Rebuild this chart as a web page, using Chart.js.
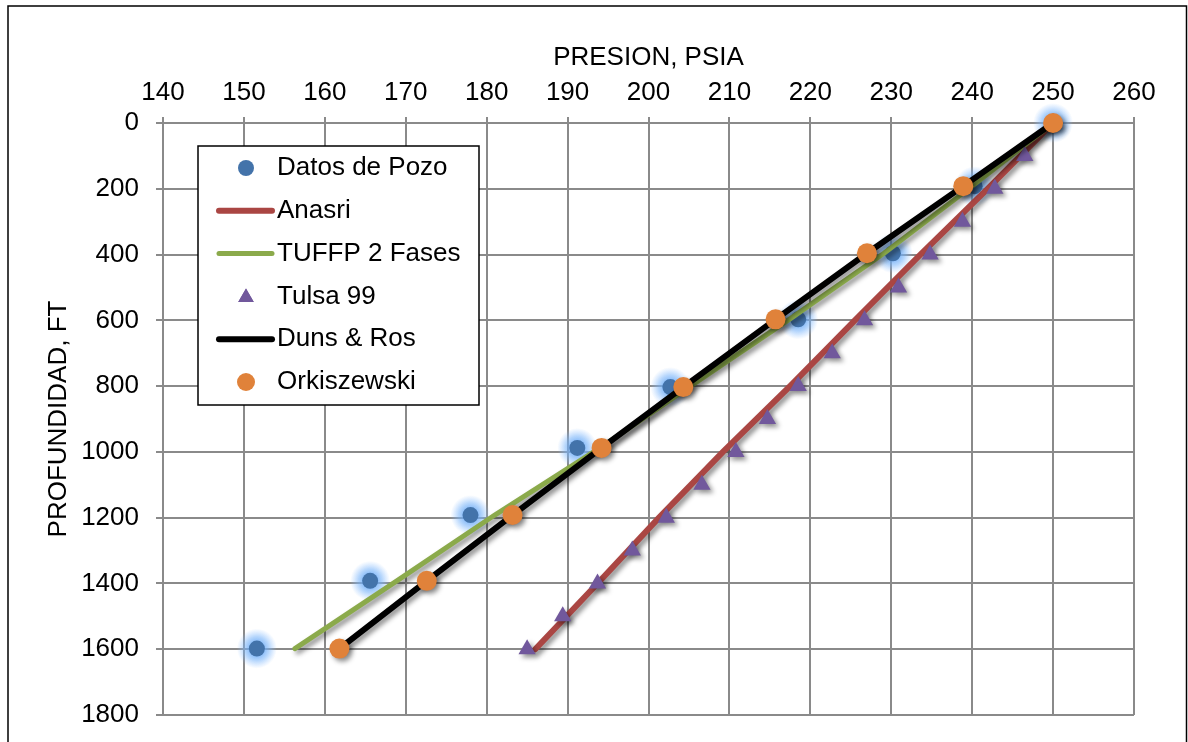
<!DOCTYPE html>
<html>
<head>
<meta charset="utf-8">
<script src="https://cdn.jsdelivr.net/npm/chart.js@4.4.1/dist/chart.umd.min.js"></script>
<style>
  html, body { margin: 0; padding: 0; background: #fff; }
  canvas { display: block; }
</style>
</head>
<body>
<canvas id="presionChart" width="1188" height="742"></canvas>
<script>
// Depths (ft) and pressures (psia)
const depthPozo = [0, 192, 396, 597, 803, 988, 1192, 1392, 1598];
const datosPozo = [250, 240.3, 230.2, 218.5, 202.7, 191.2, 178.0, 165.6, 151.6];
const orkiszewski = [250, 238.9, 227.0, 215.7, 204.3, 194.2, 183.2, 172.6, 161.8];
const dunsRos = [250, 238.9, 227.0, 215.7, 204.3, 194.2, 183.2, 172.6, 161.8];
const tuffp = [250, 240.0, 229.1, 217.4, 205.0, 194.0, 181.0, 168.9, 156.3];

const depthTulsa = [0, 100, 200, 300, 400, 500, 600, 700, 800, 900, 1000, 1100, 1200, 1300, 1400, 1500, 1600];
const tulsa99 = [250, 246.5, 242.8, 238.8, 234.8, 230.9, 226.7, 222.7, 218.5, 214.7, 210.8, 206.6, 202.2, 198.0, 193.7, 189.4, 185.0];

const depthAnasri = [0, 200, 400, 600, 800, 1000, 1200, 1400, 1600];
const anasri = [250, 241.9, 233.6, 225.5, 217.5, 209.2, 201.3, 193.7, 186.0];

const xTicks = [140, 150, 160, 170, 180, 190, 200, 210, 220, 230, 240, 250, 260];
const yTicks = [0, 200, 400, 600, 800, 1000, 1200, 1400, 1600, 1800];

const colors = {
  pozo: "#4373AA",
  anasri: "#AA4643",
  tuffp: "#8BAA4B",
  tulsa: "#71589C",
  duns: "#000000",
  ork: "#E0823A"
};

const toPoints = (xs, ys) => xs.map((x, i) => ({ x: x, y: ys[i] }));

Chart.defaults.font.family = "'Liberation Sans', Arial, sans-serif";
Chart.defaults.color = "#000";

// drop shadow on lines/markers, blue glow on the well data
const shadowPlugin = {
  id: "shadows",
  beforeDatasetDraw(chart, args) {
    const ds = chart.data.datasets[args.index];
    const ctx = chart.ctx;
    ctx.save();
    if (ds.glow) {
      // soft halo under each well point
      args.meta.data.forEach(pt => {
        const g = ctx.createRadialGradient(pt.x, pt.y, 4, pt.x, pt.y, 20);
        g.addColorStop(0, "rgba(100,165,245,0.95)");
        g.addColorStop(0.5, "rgba(120,180,250,0.55)");
        g.addColorStop(1, "rgba(140,190,255,0)");
        ctx.fillStyle = g;
        ctx.beginPath();
        ctx.arc(pt.x, pt.y, 20, 0, Math.PI * 2);
        ctx.fill();
      });
    } else {
      ctx.shadowColor = "rgba(0,0,0,0.45)";
      ctx.shadowBlur = 5;
      ctx.shadowOffsetX = 3;
      ctx.shadowOffsetY = 3;
    }
  },
  afterDatasetDraw(chart) {
    chart.ctx.restore();
  }
};

// boxed legend inside the plot + outer frame
const boxLegend = {
  id: "boxLegend",
  afterDatasetsDraw(chart) {
    const ctx = chart.ctx;
    const left = 198, top = 146, right = 479, bottom = 405;
    ctx.save();
    ctx.fillStyle = "#fff";
    ctx.fillRect(left, top, right - left, bottom - top);
    ctx.strokeStyle = "#000";
    ctx.lineWidth = 1.5;
    ctx.strokeRect(left, top, right - left, bottom - top);

    const items = [
      { label: "Datos de Pozo", kind: "circle", color: colors.pozo, r: 8 },
      { label: "Anasri", kind: "line", color: colors.anasri, w: 6 },
      { label: "TUFFP 2 Fases", kind: "line", color: colors.tuffp, w: 5 },
      { label: "Tulsa 99", kind: "triangle", color: colors.tulsa, r: 9 },
      { label: "Duns & Ros", kind: "line", color: colors.duns, w: 6 },
      { label: "Orkiszewski", kind: "circle", color: colors.ork, r: 9 }
    ];
    const cx = 246;
    ctx.font = "26px 'Liberation Sans', Arial, sans-serif";
    ctx.textBaseline = "middle";
    items.forEach((it, i) => {
      const y = 168 + i * 42.8;
      ctx.fillStyle = it.color;
      ctx.strokeStyle = it.color;
      if (it.kind === "circle") {
        ctx.beginPath();
        ctx.arc(cx, y, it.r, 0, Math.PI * 2);
        ctx.fill();
      } else if (it.kind === "triangle") {
        Chart.helpers.drawPoint(ctx, { pointStyle: "triangle", radius: it.r, borderWidth: 0 }, cx, y + 1);
        ctx.fill();
      } else {
        ctx.lineWidth = it.w;
        ctx.lineCap = "round";
        ctx.beginPath();
        ctx.moveTo(219, y);
        ctx.lineTo(272, y);
        ctx.stroke();
      }
      ctx.fillStyle = "#000";
      ctx.fillText(it.label, 277, y);
    });

    // outer chart frame
    ctx.strokeStyle = "#000";
    ctx.lineWidth = 1.5;
    ctx.strokeRect(8, 6, 1178.5, 800);
    ctx.restore();
  }
};

const gridColor = "#8a8a8a";

new Chart(document.getElementById("presionChart"), {
  type: "scatter",
  data: {
    datasets: [
      {
        label: "Datos de Pozo",
        data: toPoints(datosPozo, depthPozo),
        showLine: false,
        pointStyle: "circle",
        pointRadius: 8,
        pointBackgroundColor: colors.pozo,
        pointBorderWidth: 0,
        glow: true,
        clip: false,
        order: 6
      },
      {
        label: "Anasri",
        data: toPoints(anasri, depthAnasri),
        showLine: true,
        borderColor: colors.anasri,
        borderWidth: 6,
        borderCapStyle: "round",
        pointRadius: 0,
        clip: false,
        order: 5
      },
      {
        label: "TUFFP 2 Fases",
        data: toPoints(tuffp, depthPozo),
        showLine: true,
        borderColor: colors.tuffp,
        borderWidth: 5,
        borderCapStyle: "round",
        pointRadius: 0,
        clip: false,
        order: 4
      },
      {
        label: "Tulsa 99",
        data: toPoints(tulsa99, depthTulsa),
        showLine: false,
        pointStyle: "triangle",
        pointRadius: 10,
        pointBackgroundColor: colors.tulsa,
        pointBorderWidth: 0,
        clip: false,
        order: 3
      },
      {
        label: "Duns & Ros",
        data: toPoints(dunsRos, depthPozo),
        showLine: true,
        borderColor: colors.duns,
        borderWidth: 6,
        borderCapStyle: "round",
        pointRadius: 0,
        clip: false,
        order: 2
      },
      {
        label: "Orkiszewski",
        data: toPoints(orkiszewski, depthPozo),
        showLine: false,
        pointStyle: "circle",
        pointRadius: 10,
        pointBackgroundColor: colors.ork,
        pointBorderWidth: 0,
        clip: false,
        order: 1
      }
    ]
  },
  options: {
    responsive: false,
    animation: false,
    devicePixelRatio: 1,
    layout: { autoPadding: false, padding: { top: 0, left: 0, right: 54, bottom: 27 } },
    plugins: {
      legend: { display: false },
      tooltip: { enabled: false }
    },
    scales: {
      x: {
        type: "linear",
        position: "top",
        min: 140,
        max: 260,
        afterBuildTicks: s => { s.ticks = xTicks.map(v => ({ value: v })); },
        afterFit: s => { s.height = 123; },
        ticks: { font: { size: 26, lineHeight: 1.2 }, color: "#000", padding: 9, autoSkip: false, maxRotation: 0, callback: v => String(v) },
        grid: { color: gridColor, lineWidth: 2, tickLength: 6 },
        border: { color: gridColor, width: 2 },
        title: {
          display: true,
          text: "PRESION, PSIA",
          color: "#000",
          font: { size: 26, lineHeight: 1.2 },
          padding: { top: 42, bottom: 0 }
        }
      },
      y: {
        type: "linear",
        position: "left",
        reverse: true,
        min: 0,
        max: 1800,
        afterBuildTicks: s => { s.ticks = yTicks.map(v => ({ value: v })); },
        afterFit: s => {
          s.width = 163;
          // labels fit inside the layout padding already
          s.paddingTop = 0;
          s.paddingBottom = 0;
        },
        ticks: { font: { size: 26, lineHeight: 1.2 }, color: "#000", padding: 17, autoSkip: false, callback: v => String(v) },
        grid: { color: gridColor, lineWidth: 2, tickLength: 7 },
        border: { color: gridColor, width: 2 },
        title: {
          display: true,
          text: "PROFUNDIDAD, FT",
          color: "#000",
          font: { size: 26, lineHeight: 1.2 },
          padding: { top: 43, bottom: 0 }
        }
      }
    }
  },
  plugins: [shadowPlugin, boxLegend]
});
</script>
</body>
</html>
